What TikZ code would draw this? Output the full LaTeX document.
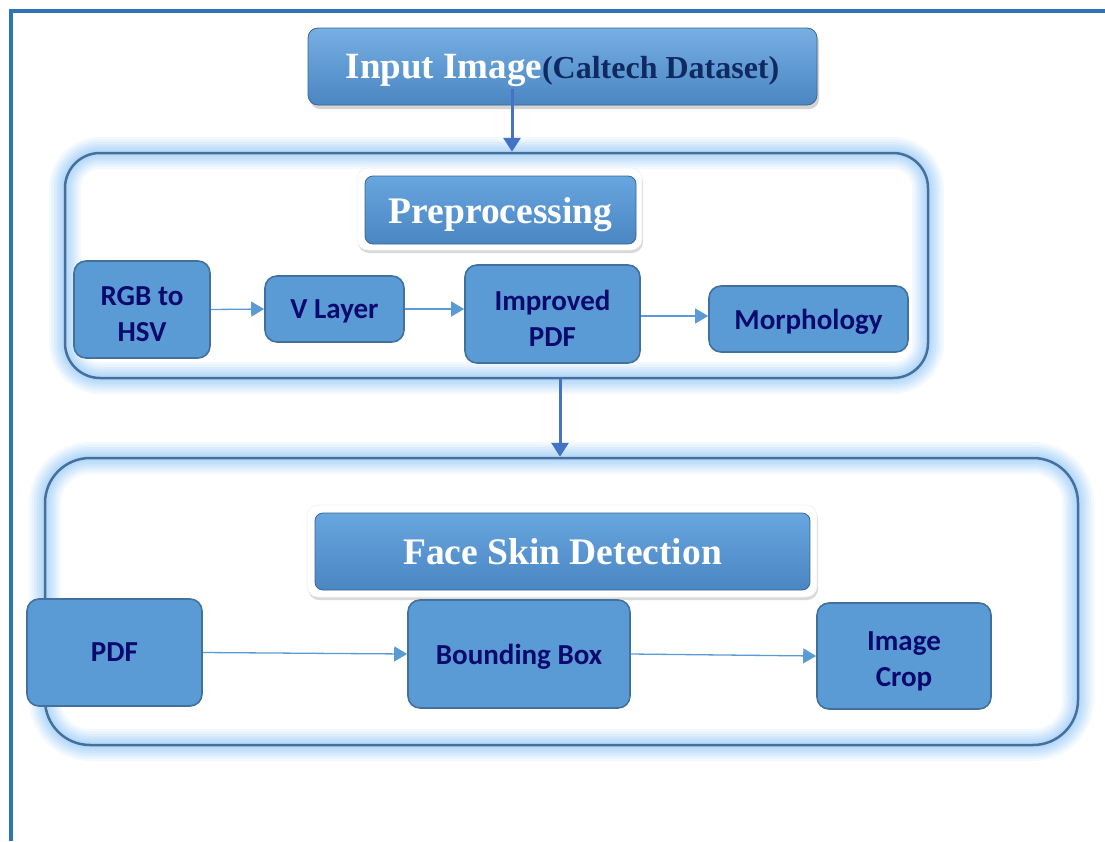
\documentclass[tikz,border=0pt]{standalone}
\usepackage{fontspec}
\setmainfont{Liberation Serif}
\newfontfamily\calib{Carlito}
\usetikzlibrary{arrows.meta,shadows}
\newcommand\mystrut{\rule{0pt}{29pt}}
\definecolor{framec}{HTML}{2E75B6}
\definecolor{nodefill}{HTML}{5B9BD5}
\definecolor{nodeline}{HTML}{41719C}
\definecolor{navytext}{HTML}{0A0A6E}
\definecolor{bigarr}{HTML}{4472C4}
\definecolor{glowc}{HTML}{8EC4F7}
\definecolor{grpline}{HTML}{46709C}
\definecolor{titletop}{HTML}{68A6E0}
\definecolor{titlebot}{HTML}{4A86C2}
\definecolor{dsnavy}{HTML}{0F2A62}
\tikzset{
  smallbox/.style={draw=nodeline, line width=1.6pt, fill=nodefill, rounded corners=12pt,
    text=navytext, font=\calib\bfseries\fontsize{29}{36}\selectfont, align=center, inner sep=0pt},
  grp/.style={draw=grpline, line width=2.5pt, rounded corners=#1, inner sep=0pt,
    preaction={draw=glowc, line width=32pt, opacity=0.1},
    preaction={draw=glowc, line width=27pt, opacity=0.12},
    preaction={draw=glowc, line width=22pt, opacity=0.14},
    preaction={draw=glowc, line width=17pt, opacity=0.16},
    preaction={draw=glowc, line width=12pt, opacity=0.18},
    preaction={draw=glowc, line width=7pt, opacity=0.2}},
  tframe/.style={fill=white, draw=gray!12, line width=0.6pt, rounded corners=11pt, inner sep=0pt,
    drop shadow={shadow xshift=1pt, shadow yshift=-3pt, opacity=0.3}},
  tbox/.style={top color=titletop, bottom color=titlebot, draw=titlebot!75!black, line width=0.8pt,
    rounded corners=8pt, inner sep=0pt, text=white, text depth=0pt,
    font=\bfseries\fontsize{37.5}{42}\selectfont},
  thinarrow/.style={draw=nodefill, line width=1.3pt, -{Triangle[length=13pt,width=15pt]}},
  bigarrow/.style={draw=bigarr, line width=3pt, -{Triangle[length=14pt,width=17pt]}}
}
\begin{document}
\begin{tikzpicture}[x=1pt,y=-1pt]
\useasboundingbox (0,0) rectangle (1105,841);
% page frame
\draw[framec, line width=4pt] (9,11) -- (1105,11);
\draw[framec, line width=4pt] (11,9) -- (11,841);

% groups
\node[grp=35pt, minimum width=863pt, minimum height=225pt] (pre) at (496.5,265.5) {};
\node[grp=45pt, minimum width=1033pt, minimum height=287pt] (fsd) at (561.5,601.5) {};

% input box
\node[tbox, rounded corners=10pt, top color=titletop!90!white, minimum width=509pt, minimum height=77pt,
  font=\bfseries\fontsize{37}{42}\selectfont,
  drop shadow={shadow xshift=2pt, shadow yshift=-4pt, opacity=0.35}] (input) at (562.5,66.5)
  {Input Image{\color{dsnavy}\fontsize{32}{36}\selectfont(Caltech Dataset)}};

% titles
\node[tframe, minimum width=285pt, minimum height=82pt] (preframe) at (499.5,209) {};
\node[tbox, minimum width=271pt, minimum height=68pt] (pretitle) at (500.5,210) {Preprocessing};
\node[tframe, minimum width=510pt, minimum height=92pt] (fsdframe) at (562,551) {};
\node[tbox, minimum width=495pt, minimum height=77pt] (fsdtitle) at (562.5,551.5) {Face Skin Detection};

% preprocessing steps
\node[smallbox, minimum width=136pt, minimum height=97pt] (rgb) at (142,309.5) {\mystrut RGB to\\HSV};
\node[smallbox, minimum width=139pt, minimum height=66pt, text depth=0pt] (vl) at (334.5,309) {V Layer};
\node[smallbox, minimum width=175pt, minimum height=98pt] (imp) at (552.5,314) {\mystrut Improved\\PDF};
\node[smallbox, minimum width=199pt, minimum height=66pt, text depth=0pt] (mor) at (808.5,319) {Morphology};

% face skin detection steps
\node[smallbox, minimum width=175pt, minimum height=107pt, text depth=0pt] (pdf) at (114.5,652.5) {PDF};
\node[smallbox, minimum width=222pt, minimum height=108pt, text depth=0pt] (bb) at (519,654) {Bounding Box};
\node[smallbox, minimum width=174pt, minimum height=106pt] (crop) at (904,656) {\mystrut Image\\Crop};

% thin arrows
\draw[thinarrow] (rgb.east) -- (vl.west);
\draw[thinarrow] (vl.east) -- (vl.east -| imp.west);
\draw[thinarrow] ([yshift=-2pt]imp.east) -- ([yshift=-2pt]imp.east -| mor.west);
\draw[thinarrow] (pdf.east) -- (bb.west);
\draw[thinarrow] (bb.east) -- (crop.west);

% big arrows
\coordinate (a1) at (512,89);
\draw[bigarrow] (a1) -- (a1 |- pre.north);
\coordinate (a2) at (560,0);
\draw[bigarrow] (a2 |- pre.south) -- (a2 |- fsd.north);
\end{tikzpicture}
\end{document}
